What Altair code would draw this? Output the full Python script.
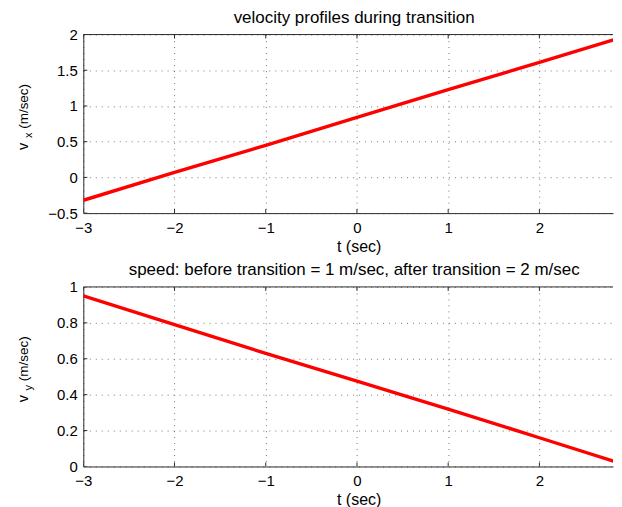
import altair as alt
import pandas as pd

# data
t = [-3, -2, -1, 0, 1, 2, 3]
vx = [-0.32, 0.07, 0.45, 0.84, 1.23, 1.61, 2.0]
vy = [0.95, 0.79, 0.63, 0.475, 0.32, 0.16, 0.0]
x_ticks = [-3, -2, -1, 0, 1, 2]
vx_ticks = [-0.5, 0, 0.5, 1, 1.5, 2]
vy_ticks = [0, 0.2, 0.4, 0.6, 0.8, 1]

title_top = "velocity profiles during transition"
title_bottom = "speed: before transition = 1 m/sec, after transition = 2 m/sec"

FONT = "Liberation Sans"
W = 531
FRAME = "#2a2a2a"
X_DOMAIN = [-3, 2.807]


def panel(values, yticks, ydomain, title, sub, H):
    df = pd.DataFrame({"t": t, "v": values})
    xs = alt.Scale(domain=X_DOMAIN, nice=False, zero=False)
    ys = alt.Scale(domain=ydomain, nice=False, zero=False)
    common = dict(
        grid=True, gridDash=[1, 5], gridColor="#777", gridWidth=1, gridOpacity=1,
        ticks=False, tickSize=0, domain=True, domainColor=FRAME, domainWidth=1,
        labelFont=FONT, labelFontSize=15, labelColor="black", format="~g",
        titleFont=FONT, titleFontSize=16, titleFontWeight="normal", titleColor="black",
    )
    xaxis = alt.Axis(values=x_ticks, title="t (sec)", labelPadding=7, titlePadding=3,
                     titleX=276, titleAlign="center", labelFlush=False, **common)
    yaxis = alt.Axis(values=yticks, title=None, labelPadding=6, labelFlush=False, **common)
    X = alt.X("t:Q", scale=xs, axis=xaxis)
    Y = alt.Y("v:Q", scale=ys, axis=yaxis)

    line = alt.Chart(df).mark_line(color="#ff0000", strokeWidth=3.4, clip=True).encode(x=X, y=Y)
    xt = pd.DataFrame({"t": x_ticks})
    yt = pd.DataFrame({"v": yticks})
    tick_top = alt.Chart(xt).mark_rule(color=FRAME, strokeWidth=1, clip=True).encode(
        x=X, y=alt.value(0), y2=alt.value(4))
    tick_bot = alt.Chart(xt).mark_rule(color=FRAME, strokeWidth=1, clip=True).encode(
        x=X, y=alt.value(H - 4), y2=alt.value(H))
    tick_left = alt.Chart(yt).mark_rule(color=FRAME, strokeWidth=1, clip=True).encode(
        y=Y, x=alt.value(0), x2=alt.value(4))
    one = pd.DataFrame({"a": [0]})
    top_border = alt.Chart(one).mark_rule(color=FRAME, strokeWidth=1).encode(
        x=alt.value(0), x2=alt.value(W), y=alt.value(0))

    txt = dict(angle=270, align="center", baseline="alphabetic", font=FONT, color="black")
    v_lbl = alt.Chart(one).mark_text(fontSize=14.5, **txt).encode(
        x=alt.value(-55), y=alt.value(112), text=alt.value("v"))
    s_lbl = alt.Chart(one).mark_text(fontSize=11, **txt).encode(
        x=alt.value(-51), y=alt.value(101), text=alt.value(sub))
    u_lbl = alt.Chart(one).mark_text(fontSize=13.5, **txt).encode(
        x=alt.value(-55), y=alt.value(72), text=alt.value("(m/sec)"))

    return alt.layer(line, tick_top, tick_bot, tick_left, top_border,
                     v_lbl, s_lbl, u_lbl).properties(
        width=W, height=H,
        title=alt.TitleParams(title, font=FONT, fontSize=17, fontWeight="normal",
                              color="black", anchor="middle", frame="group",
                              baseline="bottom", offset=-16, dx=6),
    )


top = panel(vx, vx_ticks, [-0.5, 2], title_top, "x", 179)
bottom = panel(vy, vy_ticks, [0, 1], title_bottom, "y", 180)

chart = alt.vconcat(top, bottom, spacing=7).properties(
    padding={"left": 8.5, "top": 0, "right": 0, "bottom": 0}
).configure(background="white").configure_view(stroke=None)

chart.save("out.html", embed_options={"renderer": "svg", "actions": False})
